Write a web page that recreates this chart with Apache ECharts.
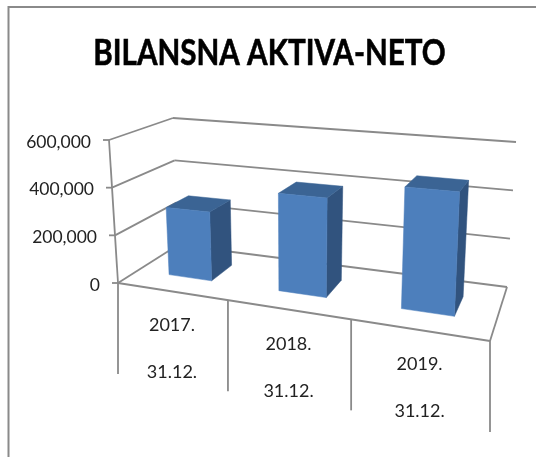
<!DOCTYPE html>
<html><head><meta charset="utf-8">
<style>html,body{margin:0;padding:0;background:#fff}#c{width:536px;height:457px}</style>
<script src="https://cdn.jsdelivr.net/npm/echarts@6/dist/echarts.min.js"></script>
</head><body><div id="c"></div>
<script>
var title = 'BILANSNA AKTIVA-NETO';
var years = ['2017.', '2018.', '2019.'];
var dates = ['31.12.', '31.12.', '31.12.'];
var values = [286000, 390000, 460000];
var yTicks = [0, 200000, 400000, 600000];

var GRID = {left: 100, top: 140, width: 390, height: 143};
// floor quad: [front-left, front-right, back-right, back-left]
var floorQ = [[118,283],[490,341],[507,287],[178,245]];
// vertical displacement from floor to the top of the value axis, at the same corners
var riseQ  = [[-9,-143],[8,-174],[9,-145],[-5,-127]];
function homog(q){
  var x0=q[0][0],y0=q[0][1],x1=q[1][0],y1=q[1][1],x2=q[2][0],y2=q[2][1],x3=q[3][0],y3=q[3][1];
  var dx1=x1-x2,dx2=x3-x2,sx=x0-x1+x2-x3,dy1=y1-y2,dy2=y3-y2,sy=y0-y1+y2-y3;
  var det=dx1*dy2-dx2*dy1,g=(sx*dy2-dx2*sy)/det,h=(dx1*sy-sx*dy1)/det;
  return function(u,w){
    var d=g*u+h*w+1;
    return [((x1-x0+g*x1)*u+(x3-x0+h*x3)*w+x0)/d,((y1-y0+g*y1)*u+(y3-y0+h*y3)*w+y0)/d];
  };
}
var hF=homog(floorQ);
function proj(u,w,t){
  var uu=u+0.032*u*(1-u),a=hF(uu,w),r=[0,1].map(function(k){
    return (1-u)*(1-w)*riseQ[0][k]+u*(1-w)*riseQ[1][k]+u*w*riseQ[2][k]+(1-u)*w*riseQ[3][k];
  });
  return [a[0]+r[0]*t,a[1]+r[1]*t];
}
function tOf(py){return (GRID.top+GRID.height-py)/GRID.height;}

var LINE={stroke:'#8a8a8a',lineWidth:1.8,fill:null};
function seg(p,q){return {type:'line',shape:{x1:p[0],y1:p[1],x2:q[0],y2:q[1]},style:LINE,silent:true};}
function poly(pts,c){return {type:'polygon',shape:{points:pts},style:{fill:c,stroke:c,lineWidth:0.5}};}

var DROP=91, LBL1=34, LBL2=81;
var option={
  animation:false,
  backgroundColor:'#fff',
  grid:GRID,
  xAxis:{type:'category',data:years,show:false},
  yAxis:{type:'value',min:0,max:600000,interval:200000,
    axisLine:{show:false},axisTick:{show:false},splitLine:{show:false},
    axisLabel:{margin:0,color:'#222',fontFamily:'Lato',fontSize:17.5,
      formatter:function(v){
        var s=v===0?'0':(v/1000)+',000';
        return '{k'+(v/200000)+'|'+s+'}';
      },
      rich:{k0:{padding:[4,0,0,0]},k1:{padding:[4,3,0,0]},k2:{padding:[4,6,0,0]},k3:{padding:[4,9,0,0]}}}},
  graphic:[
    {type:'line',shape:{x1:8.5,y1:7,x2:536,y2:7},style:{stroke:'#8a8a8a',lineWidth:2},silent:true},
    {type:'line',shape:{x1:8.5,y1:6,x2:8.5,y2:457},style:{stroke:'#8a8a8a',lineWidth:2},silent:true},
    {type:'text',x:269.5,y:53,scaleX:0.8,originX:0,originY:0,
     style:{text:title,align:'center',verticalAlign:'middle',fontFamily:'Lato',fontWeight:'bold',fontSize:37,fill:'#000',stroke:'#000',lineWidth:0.6},silent:true}
  ],
  series:[
    {type:'custom',coordinateSystem:'cartesian2d',silent:true,z:1,
     data:yTicks.map(function(v){return [0,v];}),
     encode:{x:0,y:1},
     renderItem:function(p,api){
       var t=tOf(api.coord([0,api.value(1)])[1]),ch=[];
       ch.push(seg(proj(0,0,t),proj(0,1,t)));
       ch.push(seg(proj(0,1,t),proj(1,1,t)));
       ch.push(seg(proj(0,0,t),[proj(0,0,t)[0]-6,proj(0,0,t)[1]]));
       return {type:'group',children:ch};
     }},
    {type:'custom',coordinateSystem:'cartesian2d',silent:true,z:1,
     data:[[0,0]],encode:{x:0,y:1},
     renderItem:function(p,api){
       var ch=[seg(proj(0,0,0),proj(0,0,1)),seg(proj(0,0,0),proj(1,0,0)),seg(proj(1,0,0),proj(1,1,0))];
       for(var i=0;i<=years.length;i++){var a=proj(i/years.length,0,0);ch.push(seg(a,[a[0],a[1]+DROP]));}
       return {type:'group',children:ch};
     }},
    {type:'custom',coordinateSystem:'cartesian2d',z:2,
     data:values.map(function(v,i){return [i,v];}),encode:{x:0,y:1},
     renderItem:function(p,api){
       var i=api.value(0),c=api.coord([i,api.value(1)]),bw=api.size([1,0])[0],
           uc=(c[0]-GRID.left)/GRID.width,du=bw*0.2/GRID.width,t=tOf(c[1]),
           u0=uc-du,u1=uc+du,w0=0.31,w1=0.69;
       return {type:'group',children:[
         poly([proj(u1,w0,0),proj(u1,w1,0),proj(u1,w1,t),proj(u1,w0,t)],'#31537e'),
         poly([proj(u0,w0,t),proj(u1,w0,t),proj(u1,w1,t),proj(u0,w1,t)],'#3b6494'),
         poly([proj(u0,w0,0),proj(u1,w0,0),proj(u1,w0,t),proj(u0,w0,t)],'#4d7fbc')
       ]};
     }},
    {type:'custom',coordinateSystem:'cartesian2d',silent:true,z:3,
     data:years.map(function(y,i){return [i,0];}),encode:{x:0,y:1},
     renderItem:function(p,api){
       var i=api.value(0),a=proj(i/3,0,0),b=proj((i+1)/3,0,0),x=(a[0]+b[0])/2-1,y=(a[1]+b[1])/2;
       function tx(s,yy){return {type:'text',style:{text:s,x:x,y:yy,align:'center',verticalAlign:'middle',fontFamily:'Lato',fontSize:18,fill:'#222'}};}
       return {type:'group',children:[tx(years[i],y+LBL1),tx(dates[i],y+LBL2)]};
     }}
  ]
};
var chart=echarts.init(document.getElementById('c'),null,{renderer:'canvas'});
chart.setOption(option);
</script></body></html>
